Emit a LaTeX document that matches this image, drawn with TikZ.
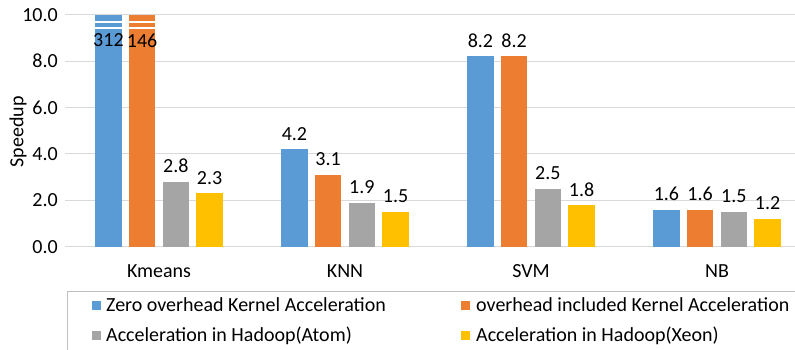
\documentclass[tikz,border=0pt]{standalone}
\usepackage{fontspec}
\setmainfont{Carlito}
\definecolor{cblue}{HTML}{5B9BD5}
\definecolor{corange}{HTML}{ED7D31}
\definecolor{cgray}{HTML}{A5A5A5}
\definecolor{cyellow}{HTML}{FFC000}
\definecolor{gridc}{HTML}{D9D9D9}
\definecolor{legc}{HTML}{BFBFBF}
\newcommand\drawbar[5]{%
  \pgfmathsetmacro\xl{66+186*#1+29.2+33.7*#2}%
  \pgfmathsetmacro\yt{246.7-23.2*#3}%
  \fill[#4] (\xl,246.7) rectangle (\xl+26.5,\yt);
  \node[lbl] (v-#1-#2) at (\xl+13.25,\yt-15.5) {#5};
}
\begin{document}
\begin{tikzpicture}[x=1pt,y=-1pt,
  lbl/.style={font=\fontsize{20}{23}\selectfont, inner sep=0pt, text=black},
  gridline/.style={draw=gridc, line width=1pt},
  legsq/.style={fill=#1, minimum size=9pt, inner sep=0pt, draw=none}]
\useasboundingbox (0,0) rectangle (795,349);
% grid and y ticks
\foreach \v/\t in {0/0.0,2/2.0,4/4.0,6/6.0,8/8.0,10/10.0} {
  \pgfmathsetmacro\yy{246.7-23.2*\v}
  \draw[gridline] (65,\yy) -- (795,\yy);
  \node[lbl, anchor=east] (t\v) at (58,\yy) {\t};
}
% bars
\drawbar{0}{0}{10}{cblue}{}
\drawbar{0}{1}{10}{corange}{}
\drawbar{0}{2}{2.8}{cgray}{2.8}
\drawbar{0}{3}{2.3}{cyellow}{2.3}
\drawbar{1}{0}{4.2}{cblue}{4.2}
\drawbar{1}{1}{3.1}{corange}{3.1}
\drawbar{1}{2}{1.9}{cgray}{1.9}
\drawbar{1}{3}{1.5}{cyellow}{1.5}
\drawbar{2}{0}{8.2}{cblue}{8.2}
\drawbar{2}{1}{8.2}{corange}{8.2}
\drawbar{2}{2}{2.5}{cgray}{2.5}
\drawbar{2}{3}{1.8}{cyellow}{1.8}
\drawbar{3}{0}{1.6}{cblue}{1.6}
\drawbar{3}{1}{1.6}{corange}{1.6}
\drawbar{3}{2}{1.5}{cgray}{1.5}
\drawbar{3}{3}{1.2}{cyellow}{1.2}
% breaks on the two tall bars
\fill[white] (94.5,21) rectangle (122.5,23);
\fill[white] (94.5,26.5) rectangle (122.5,28.5);
\fill[white] (128.2,21) rectangle (156.2,23);
\fill[white] (128.2,26.5) rectangle (156.2,28.5);
\node[lbl] (b312) at (108.45,40.5) {312};
\node[lbl] (b146) at (142.15,40.5) {146};
% category labels
\node[lbl] (c0) at (159,271) {Kmeans};
\node[lbl] (c1) at (345,271) {KNN};
\node[lbl] (c2) at (531,271) {SVM};
\node[lbl] (c3) at (717,271) {NB};
% axis title
\node[lbl, rotate=90] (ytitle) at (18,132) {Speedup};
% legend
\draw[legc, line width=1pt] (67,291) rectangle (805,360);
\node[legsq=cblue]   (s1) at (96.5,305) {};
\node[legsq=cgray]   (s3) at (96.5,335) {};
\node[legsq=corange] (s2) at (465,305) {};
\node[legsq=cyellow] (s4) at (465,335) {};
\node[lbl, anchor=base west] (l1) at (106,311) {Zero overhead Kernel Acceleration};
\node[lbl, anchor=base west] (l3) at (106,341) {Acceleration in Hadoop(Atom)};
\node[lbl, anchor=base west] (l2) at (476,311) {overhead included Kernel Acceleration};
\node[lbl, anchor=base west] (l4) at (476,341) {Acceleration in Hadoop(Xeon)};
\end{tikzpicture}
\end{document}
